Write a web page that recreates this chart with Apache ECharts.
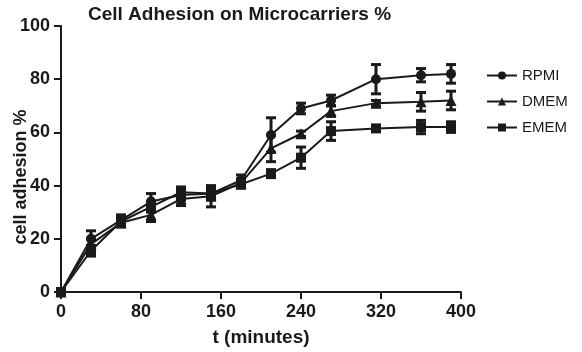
<!DOCTYPE html>
<html>
<head>
<meta charset="utf-8">
<script src="https://cdn.jsdelivr.net/npm/echarts@6/dist/echarts.min.js"></script>
<style>
  html, body { margin: 0; padding: 0; background: #fff; }
  #chart { width: 582px; height: 352px; }
</style>
</head>
<body>
<div id="chart"></div>
<script>
const times = [0, 30, 60, 90, 120, 150, 180, 210, 240, 270, 315, 360, 390]
const rpmi = [0, 20, 27, 34, 36.5, 37, 42, 59, 69, 72, 80, 81.5, 82]
const rpmiErr = [0, 3, 2, 3, 2, 2, 2, 6.5, 2, 2, 5.5, 2.5, 3.5]
const dmem = [0, 18, 26, 29, 35, 36, 41, 54, 59.5, 68, 71, 71.5, 72]
const dmemErr = [0, 2, 1.5, 2.5, 2.5, 4, 1.5, 5, 1, 2, 1, 3.5, 3.5]
const emem = [0, 15.5, 26.5, 32, 37.5, 37, 40.5, 44.5, 50.5, 60.5, 61.5, 62, 62]
const ememErr = [0, 2, 2, 2, 2, 2, 1.5, 1.5, 4, 3.5, 1, 2.5, 2]

const chart = echarts.init(document.getElementById('chart'))
const ink = '#1a1a1a'
const font = 'Liberation Sans, Arial, sans-serif'

function lineSeries(name, symbol, values) {
  return {
    name: name,
    type: 'line',
    symbol: symbol,
    symbolSize: symbol === 'triangle' ? 11 : 10,
    lineStyle: { color: ink, width: 2 },
    itemStyle: { color: ink },
    data: times.map((t, i) => [t, values[i]]),
    z: 3
  }
}

// error bars with caps, drawn through the axes
function errorSeries(values, errs) {
  return {
    type: 'custom',
    silent: true,
    z: 4,
    data: times.map((t, i) => [t, values[i] - errs[i], values[i] + errs[i]]),
    renderItem: (params, api) => {
      const lo = api.coord([api.value(0), api.value(1)])
      const hi = api.coord([api.value(0), api.value(2)])
      const w = 5
      const style = { stroke: ink, lineWidth: 3 }
      return {
        type: 'group',
        children: [
          { type: 'line', shape: { x1: lo[0], y1: lo[1], x2: hi[0], y2: hi[1] }, style: style },
          { type: 'line', shape: { x1: lo[0] - w, y1: lo[1], x2: lo[0] + w, y2: lo[1] }, style: style },
          { type: 'line', shape: { x1: hi[0] - w, y1: hi[1], x2: hi[0] + w, y2: hi[1] }, style: style }
        ]
      }
    }
  }
}

const axisCommon = {
  axisLine: { lineStyle: { color: ink, width: 2 } },
  axisTick: { lineStyle: { color: ink, width: 2 }, length: 7 },
  axisLabel: { color: ink, fontSize: 18, fontWeight: 'bold', fontFamily: font, margin: 11 },
  splitLine: { show: false },
  nameLocation: 'middle',
  nameMoveOverlap: false,
  nameTextStyle: { color: ink, fontSize: 19, fontWeight: 'bold', fontFamily: font }
}

chart.setOption({
  backgroundColor: '#fff',
  animation: false,
  title: {
    text: 'Cell Adhesion on Microcarriers %',
    left: 83,
    top: 0,
    textStyle: { color: ink, fontSize: 19, fontWeight: 'bold', fontFamily: font }
  },
  legend: {
    orient: 'vertical',
    left: 481,
    top: 63,
    itemWidth: 30,
    itemHeight: 10,
    itemGap: 11,
    textStyle: { color: ink, fontSize: 15, fontFamily: font },
    data: ['RPMI', 'DMEM', 'EMEM']
  },
  grid: { left: 61, right: 121, top: 26, bottom: 60, outerBoundsMode: 'none' },
  xAxis: Object.assign({}, axisCommon, {
    type: 'value',
    min: 0,
    max: 400,
    interval: 80,
    name: 't (minutes)',
    nameGap: 36
  }),
  yAxis: Object.assign({}, axisCommon, {
    type: 'value',
    min: 0,
    max: 100,
    interval: 20,
    name: 'cell adhesion %',
    nameTextStyle: { color: ink, fontSize: 18, fontWeight: 'bold', fontFamily: font, padding: [0, 36, 0, 0] },
    nameGap: 31
  }),
  series: [
    lineSeries('RPMI', 'circle', rpmi),
    lineSeries('DMEM', 'triangle', dmem),
    lineSeries('EMEM', 'rect', emem),
    errorSeries(rpmi, rpmiErr),
    errorSeries(dmem, dmemErr),
    errorSeries(emem, ememErr)
  ]
})
</script>
</body>
</html>
